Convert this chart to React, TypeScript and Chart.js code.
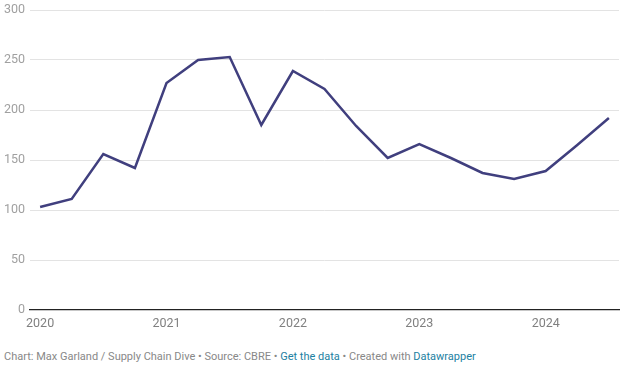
import React, { useEffect, useRef } from "react";
import { Chart, registerables } from "chart.js";

Chart.register(...registerables);

const quarters = [
  "2020 Q1", "2020 Q2", "2020 Q3", "2020 Q4",
  "2021 Q1", "2021 Q2", "2021 Q3", "2021 Q4",
  "2022 Q1", "2022 Q2", "2022 Q3", "2022 Q4",
  "2023 Q1", "2023 Q2", "2023 Q3", "2023 Q4",
  "2024 Q1", "2024 Q2", "2024 Q3",
];
const values = [103, 111, 156, 142, 227, 250, 253, 185, 239, 221, 184, 152, 166, 152, 137, 131, 139, 165, 192];
const yearTicks = [0, 4, 8, 12, 16];
const yearLabels = ["2020", "2021", "2022", "2023", "2024"];
const yTicks = [0, 50, 100, 150, 200, 250, 300];

export default function App() {
  const ref = useRef<HTMLCanvasElement | null>(null);
  useEffect(() => {
    if (!ref.current) return;
    const chart = new Chart(ref.current, {
      type: "line",
      data: {
        datasets: [
          {
            label: "Value",
            data: values.map((v, i) => ({ x: i, y: v })),
            borderColor: "#403f7e",
            borderWidth: 2.5,
            pointRadius: 0,
            tension: 0,
            fill: false,
          },
        ],
      },
      options: {
        animation: false,
        responsive: true,
        maintainAspectRatio: false,
        layout: { padding: { top: 10, right: 14, left: 0, bottom: 0 } },
        plugins: { legend: { display: false }, tooltip: { enabled: false } },
        scales: {
          x: {
            type: "linear",
            min: -0.32,
            max: 18.32,
            afterBuildTicks: (s: any) => {
              s.ticks = yearTicks.map((v) => ({ value: v }));
            },
            afterFit: (s: any) => {
              s.height = 25;
              s.paddingLeft = 0;
              s.paddingRight = 0;
            },
            grid: { display: false, drawTicks: false },
            border: { display: true, color: "#222", width: 1.3 },
            ticks: {
              padding: 6,
              maxRotation: 0,
              autoSkip: false,
              color: "#808080",
              font: { family: "Roboto", size: 12.5 },
              callback: (v: any) => {
                const idx = yearTicks.indexOf(Number(v));
                return idx >= 0 ? yearLabels[idx] : "";
              },
            },
          },
          y: {
            min: 0,
            max: 300,
            afterBuildTicks: (s: any) => {
              s.ticks = yTicks.map((v) => ({ value: v }));
            },
            afterFit: (s: any) => {
              s.width = 30;
              s.paddingTop = 0;
              s.paddingBottom = 0;
            },
            grid: {
              drawTicks: false,
              color: (c: any) => (c.tick && c.tick.value === 0 ? "rgba(0,0,0,0)" : "#e3e3e3"),
              lineWidth: 1,
            },
            border: { display: false },
            ticks: {
              padding: 5,
              color: "#a0a0a0",
              font: { family: "Roboto", size: 12.5 },
            },
          },
        },
      },
    });
    return () => chart.destroy();
  }, []);

  return (
    <div style={{ position: "absolute", left: 0, top: 0, width: 633, height: 365, background: "#fff" }}>
      <div style={{ position: "absolute", left: 0, top: 0, width: 633, height: 335 }}>
        <canvas ref={ref} />
      </div>
      <div
        style={{
          position: "absolute",
          left: 4,
          top: 350,
          fontFamily: "Roboto",
          fontSize: 11,
          color: "#888",
          whiteSpace: "nowrap",
        }}
      >
        Chart: Max Garland / Supply Chain Dive • Source: CBRE • <span style={{ color: "#1d81a2" }}>Get the data</span> • Created with{" "}
        <span style={{ color: "#1d81a2" }}>Datawrapper</span>
      </div>
    </div>
  );
}
